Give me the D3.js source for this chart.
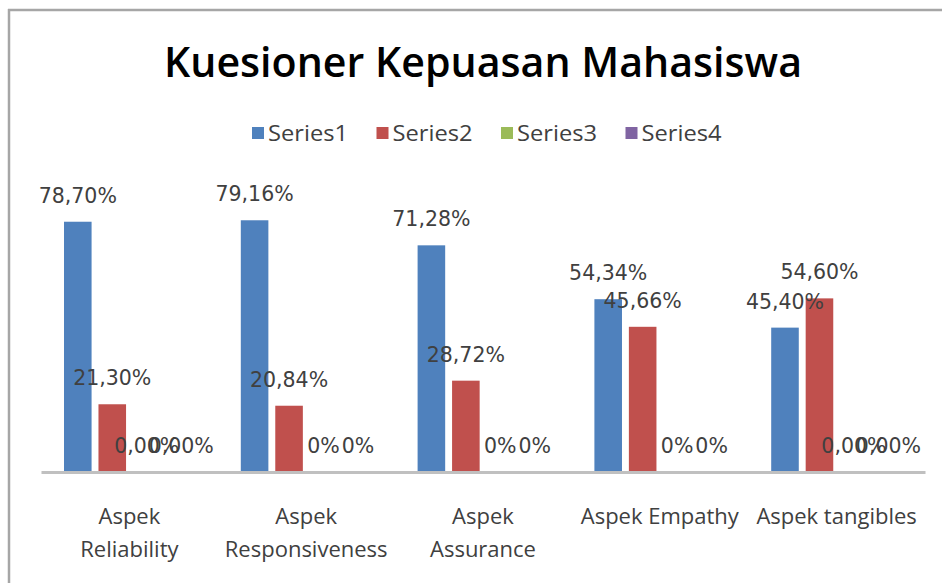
<!DOCTYPE html>
<html>
<head>
<meta charset="utf-8">
<script src="https://cdn.jsdelivr.net/npm/d3@7"></script>
<style>
  html, body { margin: 0; padding: 0; background: #fff; }
  svg { display: block; }
</style>
</head>
<body>
<svg id="chart" width="942" height="583"></svg>
<script>
const title = "Kuesioner Kepuasan Mahasiswa";
const categories = ["Aspek Reliability", "Aspek Responsiveness", "Aspek Assurance", "Aspek Empathy", "Aspek tangibles"];
const categoryLines = [["Aspek", "Reliability"], ["Aspek", "Responsiveness"], ["Aspek", "Assurance"], ["Aspek Empathy"], ["Aspek tangibles"]];
const seriesNames = ["Series1", "Series2", "Series3", "Series4"];
const series1 = [78.70, 79.16, 71.28, 54.34, 45.40];
const series2 = [21.30, 20.84, 28.72, 45.66, 54.60];
const series3 = [0, 0, 0, 0, 0];
const series4 = [0, 0, 0, 0, 0];
const labels1 = ["78,70%", "79,16%", "71,28%", "54,34%", "45,40%"];
const labels2 = ["21,30%", "20,84%", "28,72%", "45,66%", "54,60%"];
const labels3 = ["0,00%", "0%", "0%", "0%", "0,00%"];
const labels4 = ["0,00%", "0%", "0%", "0%", "0,00%"];
const colors = ["#4F81BD", "#C0504D", "#9BBB59", "#8064A2"];

const seriesValues = [series1, series2, series3, series4];
const seriesLabels = [labels1, labels2, labels3, labels4];

const svg = d3.select("#chart");

// frame
svg.append("rect").attr("x", 0).attr("y", 0).attr("width", 942).attr("height", 583).attr("fill", "#fff");
svg.append("line").attr("x1", 9).attr("x2", 9).attr("y1", 9).attr("y2", 583)
  .attr("stroke", "#a6a6a6").attr("stroke-width", 2.5);
svg.append("line").attr("x1", 8).attr("x2", 942).attr("y1", 10).attr("y2", 10)
  .attr("stroke", "#a6a6a6").attr("stroke-width", 2.5);

// title
svg.append("text")
  .attr("x", 483).attr("y", 77)
  .attr("text-anchor", "middle")
  .attr("font-family", "Open Sans, sans-serif")
  .attr("font-weight", 600)
  .attr("font-size", 42)
  .attr("textLength", 638)
  .attr("lengthAdjust", "spacingAndGlyphs")
  .attr("fill", "#000")
  .text(title);

// legend
const legend = svg.append("g");
seriesNames.forEach((name, i) => {
  const lx = 252 + i * 124.5;
  legend.append("rect").attr("x", lx).attr("y", 127).attr("width", 12).attr("height", 12).attr("fill", colors[i]);
  legend.append("text")
    .attr("x", lx + 16).attr("y", 141)
    .attr("font-family", "Open Sans, sans-serif")
    .attr("font-size", 21)
    .attr("textLength", 80)
    .attr("lengthAdjust", "spacingAndGlyphs")
    .attr("fill", "#404040")
    .text(name);
});

// scales
const x0 = d3.scaleBand().domain(categories).range([41, 925]).padding(0);
const x1 = d3.scaleBand().domain(seriesNames).range([23, 154]).paddingInner(0.2);
const y = d3.scaleLinear().domain([0, 100]).range([472, 154]);

// bars
const plot = svg.append("g");
seriesNames.forEach((s, si) => {
  plot.selectAll(null)
    .data(categories.map((c, ci) => ({ c, v: seriesValues[si][ci] })))
    .enter().append("rect")
    .attr("x", d => x0(d.c) + x1(s))
    .attr("width", x1.bandwidth())
    .attr("y", d => y(d.v))
    .attr("height", d => y(0) - y(d.v))
    .attr("fill", colors[si]);
});

// axis baseline
const xAxis = d3.axisBottom(x0).tickSize(0).tickFormat("");
const axisG = svg.append("g").attr("transform", `translate(0,${y(0)})`).call(xAxis);
axisG.select(".domain").attr("stroke", "#c0c0c0").attr("stroke-width", 3);

// category labels
categories.forEach((c, ci) => {
  const cx = x0(c) + x0.bandwidth() / 2;
  const t = svg.append("text")
    .attr("text-anchor", "middle")
    .attr("font-family", "Open Sans, sans-serif")
    .attr("font-size", 22)
    .attr("fill", "#404040");
  categoryLines[ci].forEach((line, li) => {
    t.append("tspan").attr("x", cx).attr("y", 524 + li * 33).text(line);
  });
});

// data labels
seriesNames.forEach((s, si) => {
  svg.selectAll(null)
    .data(categories.map((c, ci) => ({ c, v: seriesValues[si][ci], l: seriesLabels[si][ci] })))
    .enter().append("text")
    .attr("x", d => x0(d.c) + x1(s) + x1.bandwidth() / 2)
    .attr("y", d => y(d.v) - 19)
    .attr("text-anchor", "middle")
    .attr("font-family", "DejaVu Sans, sans-serif")
    .attr("font-size", 20.5)
    .attr("fill", "#404040")
    .text(d => d.l);
});
</script>
</body>
</html>
